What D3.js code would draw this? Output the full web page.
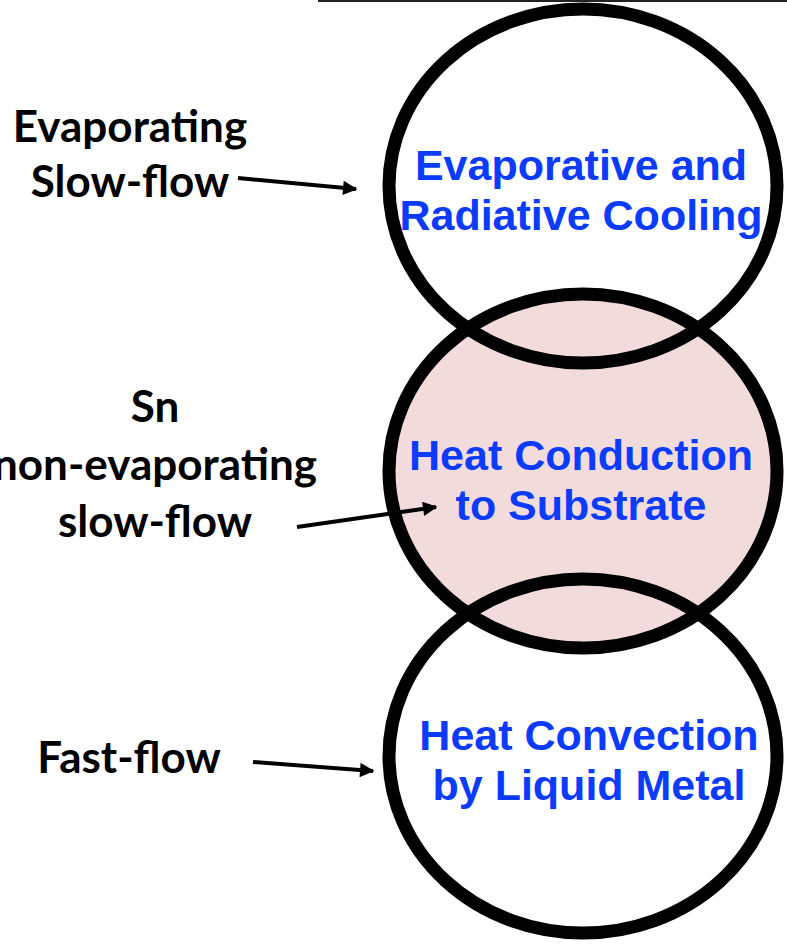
<!DOCTYPE html>
<html>
<head>
<meta charset="utf-8">
<script src="https://cdn.jsdelivr.net/npm/d3@7/dist/d3.min.js"></script>
<style>
  html, body { margin: 0; padding: 0; background: #fff; }
  svg { display: block; }
</style>
</head>
<body>
<svg id="chart" width="787" height="944"></svg>
<script>
// ---- data ----
const stages = [0, 1, 2];
const mechanisms = [
  ["Evaporative and", "Radiative Cooling"],
  ["Heat Conduction", "to Substrate"],
  ["Heat Convection", "by Liquid Metal"]
];
const regimes = [
  ["Evaporating", "Slow-flow"],
  ["Sn", "non-evaporating", "slow-flow"],
  ["Fast-flow"]
];
const highlighted = [false, true, false];

// ---- layout ----
const W = 787, H = 944;
const svg = d3.select("#chart");
svg.append("rect").attr("width", W).attr("height", H).attr("fill", "#fff");

const y = d3.scaleLinear().domain([0, 2]).range([186, 756]);
const cx = 583, rx = 194, ry = 177;

svg.append("defs").append("marker")
  .attr("id", "ah").attr("viewBox", "0 0 10 10")
  .attr("refX", 9).attr("refY", 5)
  .attr("markerWidth", 5).attr("markerHeight", 3.6)
  .attr("markerUnits", "strokeWidth")
  .attr("orient", "auto")
  .append("path").attr("d", "M0,0 L10,5 L0,10 Z").attr("fill", "#000");

// top rule
svg.append("line").attr("x1", 318).attr("x2", W).attr("y1", 1).attr("y2", 1)
  .attr("stroke", "#222").attr("stroke-width", 2);

// fills
svg.selectAll("ellipse.fill").data(stages).join("ellipse")
  .attr("class", "fill")
  .attr("cx", cx).attr("cy", d => y(d)).attr("rx", rx).attr("ry", ry)
  .attr("fill", d => highlighted[d] ? "#f2dcdb" : "none");

// outlines
svg.selectAll("ellipse.ring").data(stages).join("ellipse")
  .attr("class", "ring")
  .attr("cx", cx).attr("cy", d => y(d)).attr("rx", rx).attr("ry", ry)
  .attr("fill", "none").attr("stroke", "#000").attr("stroke-width", 13);

// mechanism text
const mechX = [581, 581, 589];
const mechDy = [-6, -1, -6];
const mech = svg.selectAll("text.mech").data(stages).join("text")
  .attr("class", "mech")
  .attr("text-anchor", "middle")
  .attr("font-family", "'Liberation Sans', Arial, sans-serif")
  .attr("font-weight", "bold").attr("font-size", 43)
  .attr("fill", "#0b3bff");
mech.each(function(d) {
  const t = d3.select(this);
  mechanisms[d].forEach((line, i) => {
    t.append("tspan").attr("x", mechX[d])
      .attr("y", y(d) + mechDy[d] + i * 50)
      .text(line);
  });
});

// regime labels
const labelX = [130, 155, 129];
const labelY0 = [142, 422, 773];
const lineGap = [55, 57.5, 0];
const reg = svg.selectAll("text.reg").data(stages).join("text")
  .attr("class", "reg")
  .attr("text-anchor", "middle")
  .attr("font-family", "Lato, 'Open Sans', sans-serif")
  .attr("font-weight", "bold").attr("font-size", 44)
  .attr("fill", "#000");
reg.each(function(d) {
  const t = d3.select(this);
  regimes[d].forEach((line, i) => {
    t.append("tspan").attr("x", labelX[d]).attr("y", labelY0[d] + i * lineGap[d]).text(line);
  });
});

// arrows
const arrows = [
  [[238, 178], [356, 189]],
  [[297, 527], [436, 507]],
  [[253, 762], [373, 771]]
];
svg.selectAll("line.arrow").data(arrows).join("line")
  .attr("class", "arrow")
  .attr("x1", d => d[0][0]).attr("y1", d => d[0][1])
  .attr("x2", d => d[1][0]).attr("y2", d => d[1][1])
  .attr("stroke", "#000").attr("stroke-width", 4)
  .attr("marker-end", "url(#ah)");
</script>
</body>
</html>
